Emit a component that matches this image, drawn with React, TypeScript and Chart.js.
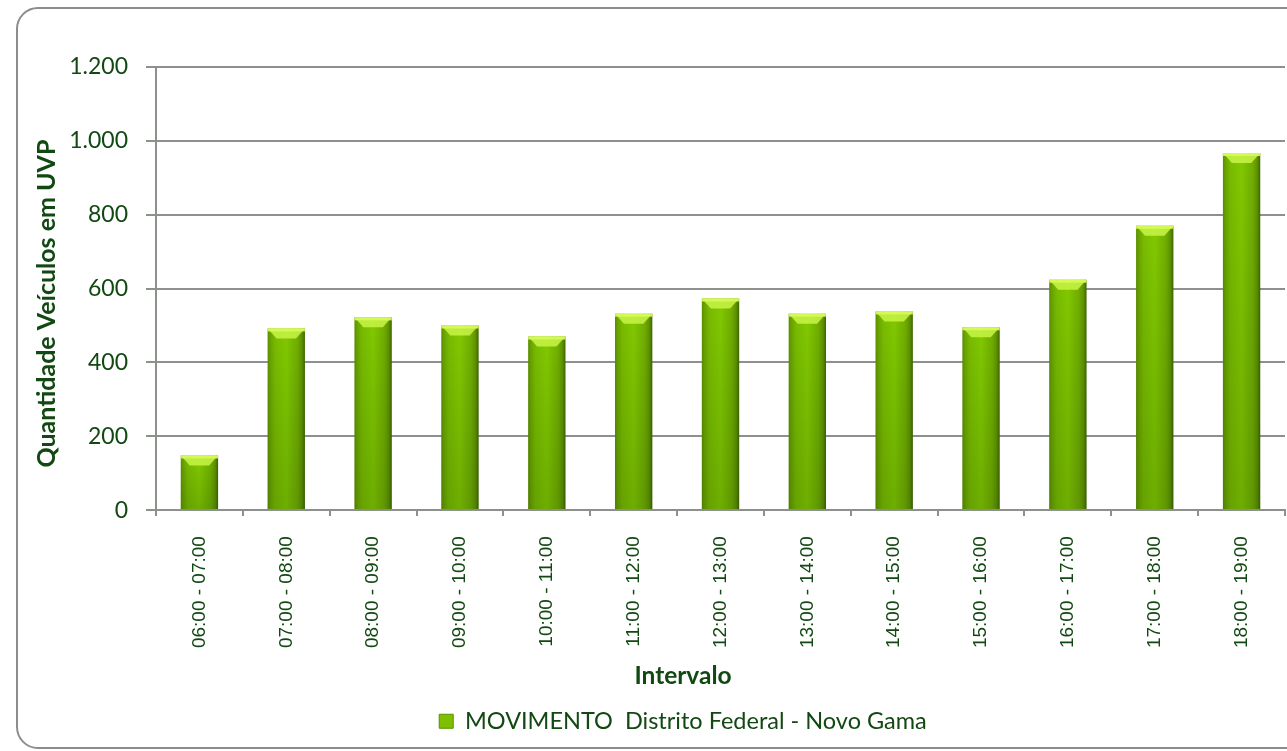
import { useEffect, useRef } from "react";
import { Chart, registerables } from "chart.js";

Chart.register(...registerables);

const categories = [
  "06:00 - 07:00",
  "07:00 - 08:00",
  "08:00 - 09:00",
  "09:00 - 10:00",
  "10:00 - 11:00",
  "11:00 - 12:00",
  "12:00 - 13:00",
  "13:00 - 14:00",
  "14:00 - 15:00",
  "15:00 - 16:00",
  "16:00 - 17:00",
  "17:00 - 18:00",
  "18:00 - 19:00",
];
const values = [148, 492, 522, 500, 470, 532, 573, 532, 538, 495, 624, 770, 967];
const yTickValues = [0, 200, 400, 600, 800, 1000, 1200];
const seriesName = "MOVIMENTO  Distrito Federal - Novo Gama";
const xTitle = "Intervalo";
const yTitle = "Quantidade Veículos em UVP";

const TEXT = "#124812";
const GRID = "#8c918c";
const BAR_PCT = 0.43;

function fmt(v: number): string {
  return String(v).replace(/\B(?=(\d{3})+(?!\d))/g, ".");
}

function barFill(ctx: any) {
  const chart = ctx.chart;
  const xs = chart.scales?.x;
  if (ctx.type !== "data" || ctx.dataIndex === undefined || !xs || !chart.chartArea) return "#7cbf00";
  const cx = xs.getPixelForValue(ctx.dataIndex);
  const w = (xs.width / categories.length) * BAR_PCT;
  const g = chart.ctx.createLinearGradient(cx - w / 2, 0, cx + w / 2, 0);
  g.addColorStop(0, "#5a8e00");
  g.addColorStop(0.07, "#6aa300");
  g.addColorStop(0.2, "#78bb00");
  g.addColorStop(0.5, "#82c900");
  g.addColorStop(0.8, "#70ad00");
  g.addColorStop(0.92, "#5e9200");
  g.addColorStop(1, "#3e6400");
  return g;
}

const bevelPlugin = {
  id: "bevel",
  afterDatasetsDraw(chart: any) {
    const ctx = chart.ctx;
    const meta = chart.getDatasetMeta(0);
    meta.data.forEach((el: any) => {
      const { x, y, base, width } = el.getProps(["x", "y", "base", "width"], true);
      const l = x - width / 2;
      const r = x + width / 2;
      const h = base - y;
      ctx.save();
      const vg = ctx.createLinearGradient(0, y, 0, base);
      vg.addColorStop(0, "rgba(0,40,0,0)");
      vg.addColorStop(1, "rgba(20,50,0,0.18)");
      ctx.fillStyle = vg;
      ctx.fillRect(l, y, width, h);
      const inset = Math.min(9, width / 4);
      ctx.fillStyle = "rgba(200,245,70,0.85)";
      ctx.beginPath();
      ctx.moveTo(l, y);
      ctx.lineTo(r, y);
      ctx.lineTo(r - inset, y + Math.min(10, h));
      ctx.lineTo(l + inset, y + Math.min(10, h));
      ctx.closePath();
      ctx.fill();
      ctx.fillStyle = "rgba(215,250,90,0.9)";
      ctx.fillRect(l, y, width, Math.min(3, h));
      ctx.restore();
    });
  },
};

// y-axis title, drawn at the position it has in the reference
const yTitlePlugin = {
  id: "yTitle",
  afterDraw(chart: any) {
    const ctx = chart.ctx;
    const area = chart.chartArea;
    ctx.save();
    ctx.translate(47, (area.top + area.bottom) / 2 + 15);
    ctx.rotate(-Math.PI / 2);
    ctx.font = "bold 25px Lato";
    ctx.fillStyle = TEXT;
    ctx.textAlign = "center";
    ctx.textBaseline = "middle";
    ctx.fillText(yTitle, 0, 0);
    ctx.restore();
  },
};

export default function App() {
  const ref = useRef<HTMLCanvasElement | null>(null);

  useEffect(() => {
    if (!ref.current) return;
    const chart = new Chart(ref.current, {
      type: "bar",
      data: {
        labels: categories,
        datasets: [
          {
            label: seriesName,
            data: values,
            backgroundColor: barFill,
            borderWidth: 0,
            barPercentage: BAR_PCT,
            categoryPercentage: 1,
            yAxisID: "y",
          },
        ],
      },
      plugins: [bevelPlugin, yTitlePlugin],
      options: {
        responsive: false,
        animation: false,
        layout: { padding: { left: 32, right: 0, top: 67, bottom: 8 } },
        plugins: {
          tooltip: { enabled: false },
          title: {
            display: true,
            text: xTitle,
            position: "bottom",
            color: TEXT,
            font: { family: "Lato", size: 24.5, weight: "bold" },
            padding: { top: 6, bottom: 5 },
          },
          legend: {
            position: "bottom",
            weight: 3000,
            labels: {
              boxWidth: 14,
              boxHeight: 14,
              padding: 14,
              color: TEXT,
              font: { family: "Lato", size: 23.5 },
              generateLabels: (c: any) =>
                c.data.datasets.map((d: any, i: number) => ({
                  text: d.label,
                  fillStyle: "#7cc000",
                  strokeStyle: "#5a8e00",
                  lineWidth: 1,
                  fontColor: TEXT,
                  hidden: false,
                  datasetIndex: i,
                })),
            },
          } as any,
        },
        scales: {
          x: {
            grid: {
              display: true,
              drawOnChartArea: false,
              tickLength: 6,
              color: GRID,
              lineWidth: 2,
              offset: true,
            },
            border: { color: GRID, width: 2 },
            ticks: {
              minRotation: 90,
              maxRotation: 90,
              autoSkip: false,
              padding: 20,
              color: TEXT,
              font: { family: "Liberation Sans", size: 19 },
            },
            afterFit: (s: any) => {
              s.height = 145;
            },
          } as any,
          y: {
            min: 0,
            max: 1200,
            afterBuildTicks: (s: any) => {
              s.ticks = yTickValues.map((v) => ({ value: v }));
            },
            grid: { color: GRID, lineWidth: 2, tickLength: 10 },
            border: { color: GRID, width: 2 },
            ticks: {
              padding: 18,
              color: TEXT,
              font: { family: "Lato", size: 23 },
              callback: (v: any) => fmt(Number(v)),
            },
            title: { display: false },
            afterFit: (s: any) => {
              s.width = 124;
            },
          },
          yr: {
            type: "linear",
            position: "right",
            display: true,
            grid: { display: false, drawTicks: false },
            border: { display: false },
            ticks: { display: false },
            afterFit: (s: any) => {
              s.width = 49;
            },
          },
        },
      },
    });
    return () => chart.destroy();
  }, []);

  return (
    <div
      style={{
        position: "fixed",
        left: 0,
        top: 0,
        width: 1287,
        height: 751,
        overflow: "hidden",
        background: "#fff",
      }}
    >
      <div
        style={{
          position: "absolute",
          left: 16,
          top: 7,
          width: 1400,
          height: 742,
          border: "2px solid #8a8f8a",
          borderRadius: 22,
          boxSizing: "border-box",
        }}
      />
      <canvas
        ref={ref}
        width={1334}
        height={751}
        style={{ position: "absolute", left: 0, top: 0 }}
      />
    </div>
  );
}
